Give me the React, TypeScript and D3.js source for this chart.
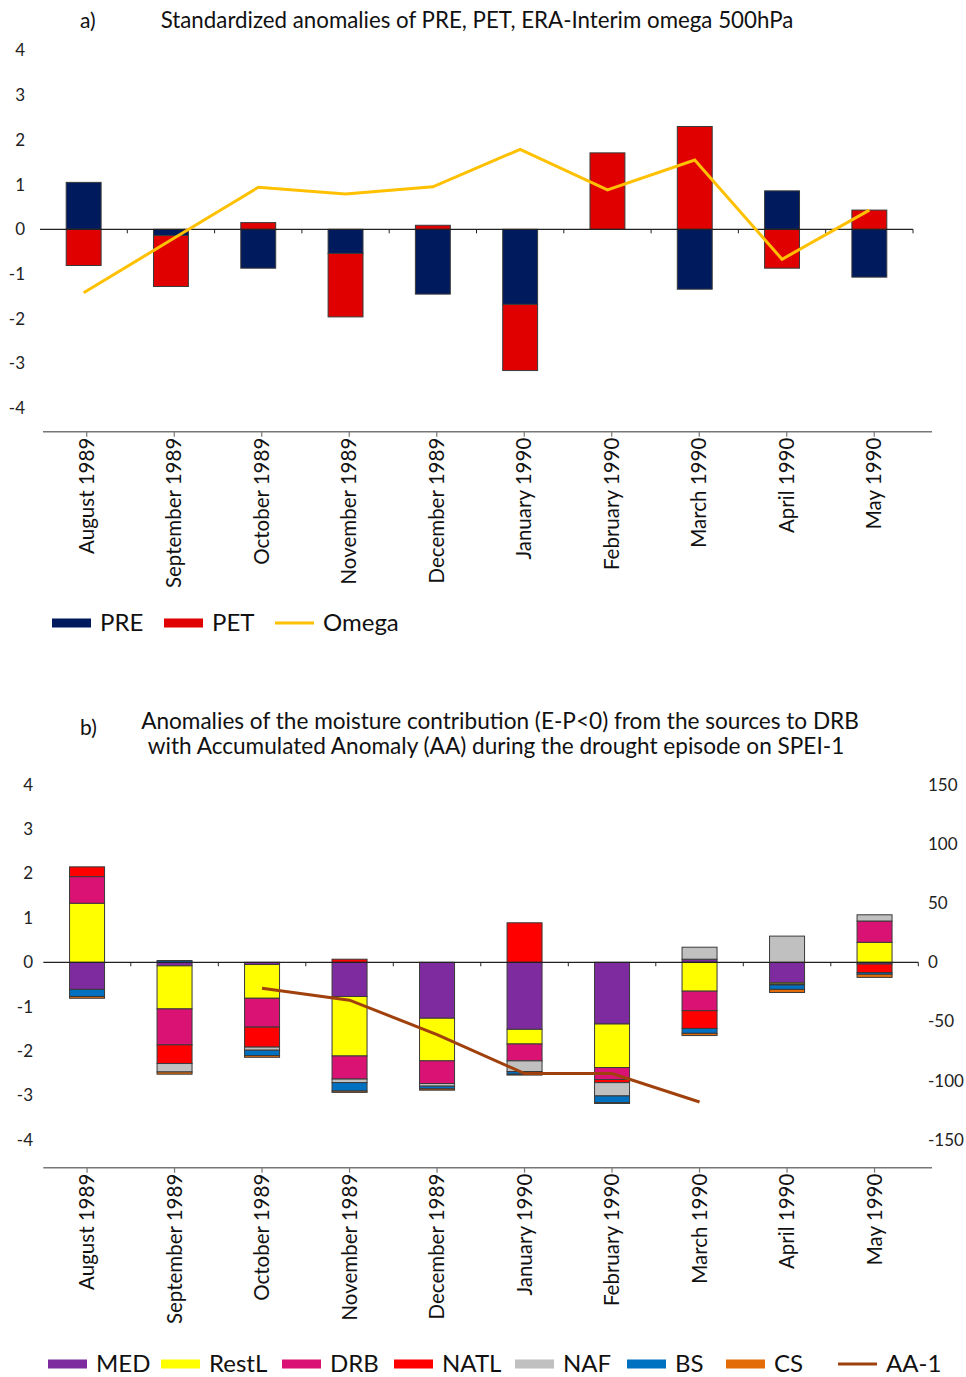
import React from "react";
import * as d3 from "d3";

const months = ["August 1989","September 1989","October 1989","November 1989","December 1989","January 1990","February 1990","March 1990","April 1990","May 1990"];

// Panel a
const pre = [1.05, -0.14, -0.87, -0.54, -1.45, -1.68, 0, -1.34, 0.86, -1.07];
const pet = [-0.81, -1.14, 0.15, -1.42, 0.09, -1.48, 1.71, 2.30, -0.87, 0.43];
const omega = [-1.42, -0.24, 0.94, 0.79, 0.95, 1.79, 0.88, 1.55, -0.67, 0.43];

// Panel b
const med = [-0.61, -0.08, -0.05, -0.77, -1.26, -1.51, -1.39, 0.07, -0.46, -0.04];
const restL = [1.33, -0.97, -0.76, -1.34, -0.96, -0.33, -0.98, -0.65, -0.03, 0.45];
const drb = [0.60, -0.81, -0.65, -0.52, -0.51, -0.38, -0.27, -0.44, -0.02, 0.48];
const natl = [0.22, -0.42, -0.45, 0.07, 0, 0.89, -0.07, -0.40, 0, -0.19];
const naf = [0, -0.19, -0.07, -0.08, -0.06, -0.24, -0.30, 0.27, 0.59, 0.14];
const bs = [-0.16, 0.04, -0.12, -0.19, -0.06, -0.06, -0.15, -0.11, -0.10, -0.04];
const cs = [-0.04, -0.05, -0.04, -0.03, -0.03, -0.02, -0.02, -0.05, -0.07, -0.07];
const aa = [null, null, -22, -32, -61, -94, -94, -118, null, null];

const leftTicks = [4, 3, 2, 1, 0, -1, -2, -3, -4];
const rightTicks = [150, 100, 50, 0, -50, -100, -150];

const FONT = "Lato, 'Open Sans', sans-serif";

const aSeries = [
  { key: "PRE", values: pre, color: "#001A5E" },
  { key: "PET", values: pet, color: "#E00000" },
];
const bSeries = [
  { key: "MED", values: med, color: "#7F2BA0" },
  { key: "RestL", values: restL, color: "#FFFF00" },
  { key: "DRB", values: drb, color: "#D91273" },
  { key: "NATL", values: natl, color: "#FF0000" },
  { key: "NAF", values: naf, color: "#C0C0C0" },
  { key: "BS", values: bs, color: "#0070C0" },
  { key: "CS", values: cs, color: "#E36C09" },
];

function stackData(series: { key: string; values: number[] }[]) {
  const rows = months.map((m, i) => {
    const r: any = { month: m };
    series.forEach((s) => (r[s.key] = s.values[i]));
    return r;
  });
  return d3
    .stack()
    .keys(series.map((s) => s.key))
    .offset(d3.stackOffsetDiverging)(rows as any);
}

function Panel(props: {
  series: { key: string; values: number[]; color: string }[];
  y: d3.ScaleLinear<number, number>;
  x: d3.ScaleBand<string>;
  xAxis: d3.ScaleBand<string>;
  axisY: number;
  axisEnd: number;
  labelRight: number;
  children?: any;
}) {
  const { series, y, x, xAxis, axisY, axisEnd, labelRight } = props;
  const stacked = stackData(series);
  const y0 = y(0);
  const [x0, x1] = x.range();
  return (
    <g>
      {leftTicks.map((t) => (
        <text key={t} x={labelRight} y={y(t)} dy="0.35em" textAnchor="end" fontSize={17} fontFamily={FONT} fill="#222">
          {t}
        </text>
      ))}
      {stacked.map((layer, li) => (
        <g key={layer.key} fill={series[li].color}>
          {layer.map((d, i) =>
            d[1] - d[0] !== 0 ? (
              <rect
                key={i}
                x={x(months[i])}
                width={x.bandwidth()}
                y={y(Math.max(d[0], d[1]))}
                height={Math.abs(y(d[0]) - y(d[1]))}
                stroke="#3a3a3a"
                strokeWidth={1}
              />
            ) : null
          )}
        </g>
      ))}
      <line x1={x0} x2={x1} y1={y0} y2={y0} stroke="#222" strokeWidth={1.2} />
      {d3.range(1, months.length + 1).map((i) => {
        const xx = x0 + x.step() * i;
        return <line key={i} x1={xx} x2={xx} y1={y0} y2={y0 + 4} stroke="#222" strokeWidth={1} />;
      })}
      {props.children}
      <line x1={xAxis.range()[0]} x2={axisEnd} y1={axisY} y2={axisY} stroke="#777" strokeWidth={1.5} />
      {months.map((m) => {
        const cx = (xAxis(m) as number) + xAxis.bandwidth() / 2;
        return (
          <g key={m}>
            <line x1={cx} x2={cx} y1={axisY} y2={axisY + 5} stroke="#777" strokeWidth={1.2} />
            <text
              transform={`translate(${cx},${axisY + 6}) rotate(-90)`}
              textAnchor="end"
              dy="0.35em"
              fontSize={20.5}
              fontFamily={FONT}
              fill="#111"
            >
              {m}
            </text>
          </g>
        );
      })}
    </g>
  );
}

export default function App() {
  const W = 966;
  const H = 1377;

  const xa = d3.scaleBand<string>().domain(months).range([40, 913]).paddingInner(0.6).paddingOuter(0.3);
  const xaAxis = d3.scaleBand<string>().domain(months).range([43, 918]);
  const ya = d3.scaleLinear().domain([-4, 4]).range([408.1, 50.5]);

  const xb = d3.scaleBand<string>().domain(months).range([43.3, 918.3]).paddingInner(0.6).paddingOuter(0.3);
  const xbAxis = d3.scaleBand<string>().domain(months).range([43.3, 918.3]);
  const yb = d3.scaleLinear().domain([-4, 4]).range([1139.9, 784.7]);
  const ybR = d3.scaleLinear().domain([-150, 150]).range([1139.9, 784.7]);

  const cxa = (i: number) => (xa(months[i]) as number) + xa.bandwidth() / 2;
  const cxb = (i: number) => (xb(months[i]) as number) + xb.bandwidth() / 2;

  const omegaLine = d3
    .line<number>()
    .x((_, i) => cxa(i))
    .y((d) => ya(d))(omega);

  const aaPts = aa.map((v, i) => ({ v, i })).filter((p) => p.v !== null) as { v: number; i: number }[];
  const aaLine = d3
    .line<{ v: number; i: number }>()
    .x((p) => cxb(p.i))
    .y((p) => ybR(p.v))(aaPts);

  const legendA = [
    { label: "PRE", color: "#001A5E", type: "bar", x: 52 },
    { label: "PET", color: "#E00000", type: "bar", x: 164 },
    { label: "Omega", color: "#FFC000", type: "line", x: 275 },
  ];
  const legendB = [
    { label: "MED", color: "#7F2BA0", type: "bar", x: 48 },
    { label: "RestL", color: "#FFFF00", type: "bar", x: 161 },
    { label: "DRB", color: "#D91273", type: "bar", x: 282 },
    { label: "NATL", color: "#FF0000", type: "bar", x: 394 },
    { label: "NAF", color: "#C0C0C0", type: "bar", x: 515 },
    { label: "BS", color: "#0070C0", type: "bar", x: 627 },
    { label: "CS", color: "#E36C09", type: "bar", x: 726 },
    { label: "AA-1", color: "#A0410D", type: "line", x: 838 },
  ];

  const renderLegend = (items: any[], yc: number) =>
    items.map((it) => (
      <g key={it.label}>
        {it.type === "bar" ? (
          <rect x={it.x} y={yc - 4.5} width={39} height={9} fill={it.color} />
        ) : (
          <line x1={it.x} x2={it.x + 39} y1={yc} y2={yc} stroke={it.color} strokeWidth={3} />
        )}
        <text x={it.x + 48} y={yc} dy="0.35em" fontSize={24} fontFamily={FONT} fill="#111">
          {it.label}
        </text>
      </g>
    ));

  return (
    <svg width={W} height={H} style={{ position: "absolute", left: 0, top: 0, background: "#fff" }}>
      <rect width={W} height={H} fill="#fff" />
      {/* Panel a */}
      <text x={80} y={28} fontSize={21} fontFamily={FONT} fill="#111">a)</text>
      <text x={477} y={28} textAnchor="middle" fontSize={22.3} fontFamily={FONT} fill="#111">
        Standardized anomalies of PRE, PET, ERA-Interim omega 500hPa
      </text>
      <Panel series={aSeries} y={ya} x={xa} xAxis={xaAxis} axisY={431.7} axisEnd={932} labelRight={25}>
        <path d={omegaLine as string} fill="none" stroke="#FFC000" strokeWidth={3} />
      </Panel>
      {renderLegend(legendA, 623)}

      {/* Panel b */}
      <text x={80} y={735} fontSize={21} fontFamily={FONT} fill="#111">b)</text>
      <text x={500} y={729} textAnchor="middle" fontSize={22.6} fontFamily={FONT} fill="#111">
        Anomalies of the moisture contribution (E-P&lt;0) from the sources to DRB
      </text>
      <text x={496} y={754} textAnchor="middle" fontSize={22.6} fontFamily={FONT} fill="#111">
        with Accumulated Anomaly (AA) during the drought episode on SPEI-1
      </text>
      <Panel series={bSeries} y={yb} x={xb} xAxis={xbAxis} axisY={1167.7} axisEnd={932} labelRight={33}>
        <path d={aaLine as string} fill="none" stroke="#A0410D" strokeWidth={3} />
      </Panel>
      {rightTicks.map((t) => (
        <text key={t} x={928} y={ybR(t)} dy="0.35em" fontSize={17} fontFamily={FONT} fill="#222">
          {t}
        </text>
      ))}
      {renderLegend(legendB, 1364)}
    </svg>
  );
}
